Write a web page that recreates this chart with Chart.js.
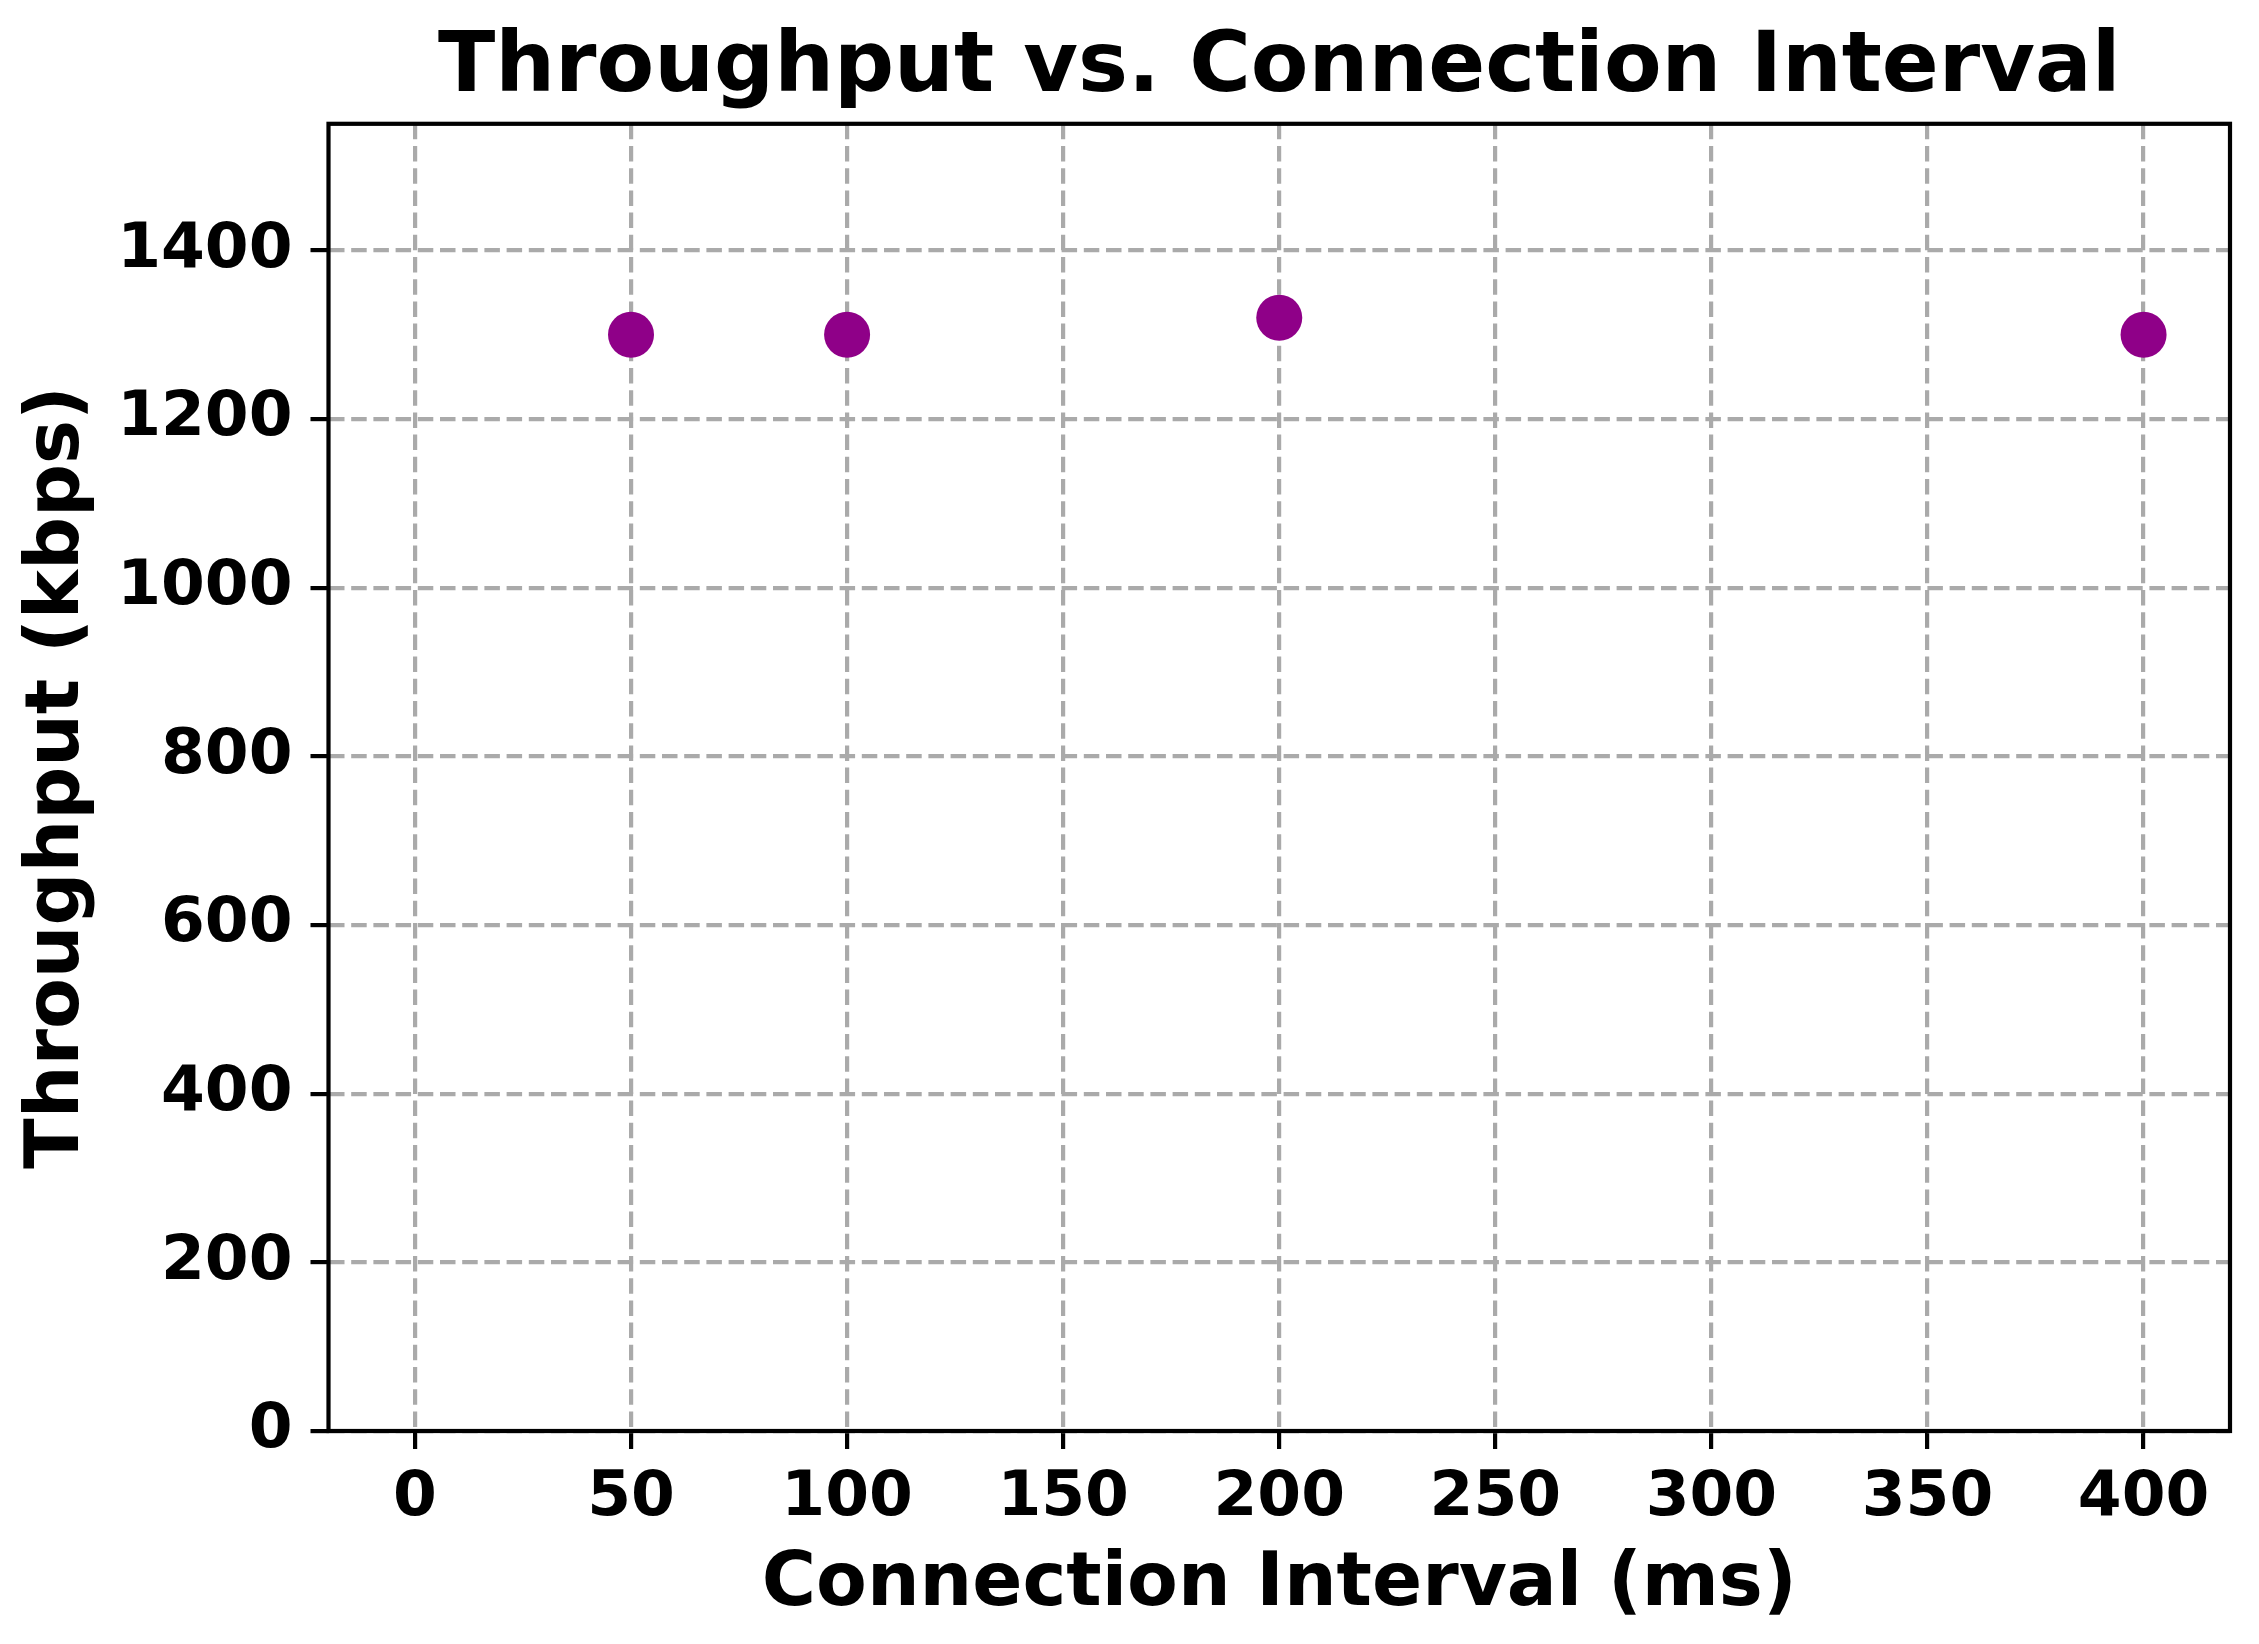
<!DOCTYPE html>
<html>
<head>
<meta charset="utf-8">
<title>Throughput vs. Connection Interval</title>
<script src="https://cdn.jsdelivr.net/npm/chart.js@4.4.1/dist/chart.umd.min.js"></script>
<style>
  html, body { margin: 0; padding: 0; background: #ffffff; }
  #canvas { width: 2259px; height: 1644px; }
</style>
</head>
<body>
<div id="canvas"><canvas id="myChart"></canvas></div>
<script>
// data
const intervals = [50, 100, 200, 400];
const throughput = [1300, 1300, 1320, 1300];
const xTicks = [0, 50, 100, 150, 200, 250, 300, 350, 400];
const yTicks = [0, 200, 400, 600, 800, 1000, 1200, 1400];

const FONT = "'DejaVu Sans', 'Liberation Sans', sans-serif";
const gridColor = '#aaaaaa';

// full box round the plot area (matplotlib spines)
const frame = {
    id: 'frame',
    afterDraw(chart) {
        const a = chart.chartArea;
        const ctx = chart.ctx;
        ctx.save();
        ctx.setLineDash([]);
        ctx.lineWidth = 4.2;
        ctx.strokeStyle = '#000000';
        ctx.strokeRect(a.left, a.top, a.right - a.left, a.bottom - a.top);
        ctx.restore();
    }
};

const data = {
    datasets: [{
        label: 'Throughput',
        data: intervals.map((x, i) => ({ x: x, y: throughput[i] })),
        backgroundColor: '#8f0088',
        borderColor: '#8f0088',
        borderWidth: 0,
        pointRadius: 23,
        pointHoverRadius: 23
    }]
};

const options = {
    responsive: true,
    maintainAspectRatio: false,
    animation: false,
    events: [],
    layout: {
        padding: { left: 0, right: 29, top: 0, bottom: 0 }
    },
    scales: {
        x: {
            type: 'linear',
            min: -20,
            max: 420,
            afterBuildTicks: (scale) => { scale.ticks = xTicks.map(v => ({ value: v })); },
            afterFit: (scale) => { scale.height = 213; },
            grid: {
                color: gridColor,
                lineWidth: 4.2,
                tickColor: '#000000',
                tickWidth: 4.2,
                tickLength: 18,
                tickBorderDash: []
            },
            border: { display: false, dash: [15.5, 6.7] },
            ticks: {
                color: '#000000',
                padding: 12,
                maxRotation: 0,
                font: { family: FONT, size: 63, weight: 'bold' },
                callback: (v) => String(v)
            },
            title: {
                display: true,
                text: 'Connection Interval (ms)',
                color: '#000000',
                font: { family: FONT, size: 74, weight: 'bold' },
                padding: { top: 0, bottom: 14 }
            }
        },
        y: {
            type: 'linear',
            min: 0,
            max: 1550,
            afterBuildTicks: (scale) => { scale.ticks = yTicks.map(v => ({ value: v })); },
            afterFit: (scale) => { scale.width = 328.5; },
            grid: {
                color: gridColor,
                lineWidth: 4.2,
                tickColor: '#000000',
                tickWidth: 4.2,
                tickLength: 18,
                tickBorderDash: []
            },
            border: { display: false, dash: [15.5, 6.7] },
            ticks: {
                color: '#000000',
                padding: 18,
                font: { family: FONT, size: 63, weight: 'bold' },
                callback: (v) => String(v)
            },
            title: {
                display: true,
                text: 'Throughput (kbps)',
                color: '#000000',
                font: { family: FONT, size: 74, weight: 'bold' },
                padding: { top: 14, bottom: 0 }
            }
        }
    },
    plugins: {
        legend: { display: false },
        tooltip: { enabled: false },
        title: {
            display: true,
            fullSize: false,
            text: 'Throughput vs. Connection Interval',
            color: '#000000',
            font: { family: FONT, size: 84, weight: 'bold' },
            padding: { top: 19, bottom: 4 }
        }
    }
};

const canvas = document.getElementById('myChart');
const ctx = canvas.getContext('2d');

const myChart = new Chart(ctx, {
    type: 'scatter',
    data: data,
    options: options,
    plugins: [frame]
});
</script>
</body>
</html>
